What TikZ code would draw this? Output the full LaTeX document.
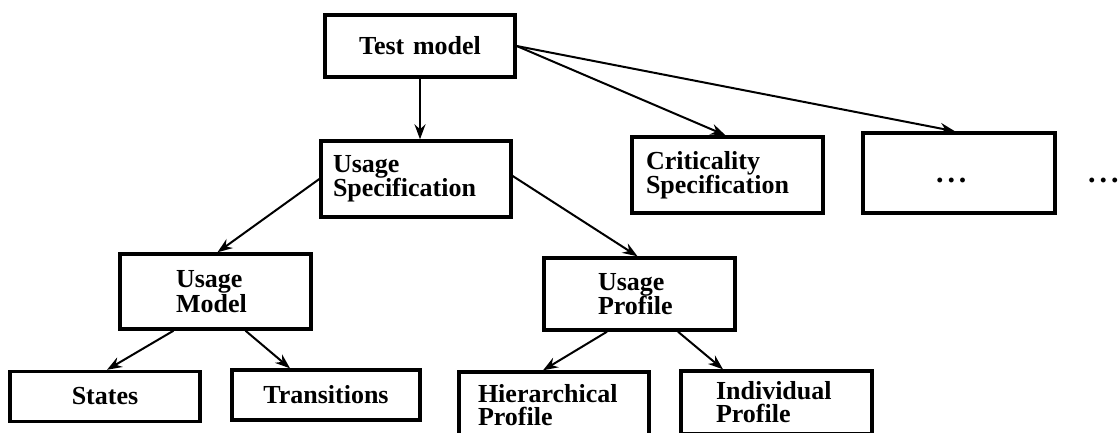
\documentclass[tikz,border=0pt]{standalone}
\usepackage{fontspec}
\setmainfont{Liberation Serif}
\usetikzlibrary{arrows.meta}
\tikzset{
  box/.style={draw, line width=3.4pt, inner ysep=0pt, align=left,
    font=\fontsize{26}{24.5}\selectfont\bfseries},
  link/.style={line width=2pt, -{Stealth[length=15pt,width=11pt,inset=5pt]}},
  plain/.style={inner sep=0pt, font=\fontsize{30}{24}\selectfont\bfseries}
}
\begin{document}
\begin{tikzpicture}[x=1pt,y=-1pt]
\useasboundingbox (0,0) rectangle (1119,432);
\clip (0,0) rectangle (1119,432);
% top
\node[box, align=center, minimum width=190pt, minimum height=62pt, inner xsep=10pt, text width=170pt] (tm) at (420,46) {Test model};
% second row
\node[box, minimum width=190pt, minimum height=76pt, inner xsep=12pt, text width=166pt] (us) at (416,179) {Usage\\Specification};
\node[box, minimum width=191pt, minimum height=76pt, inner xsep=14pt, text width=163pt] (cs) at (727.5,175) {Criticality\\Specification};
\node[box, font=\fontsize{30}{24}\selectfont\bfseries, minimum width=192pt, minimum height=80pt, inner xsep=73pt, text width=46pt] (db) at (959,173) {\vphantom{X}.\kern4pt.\kern4pt.};
\node[plain, anchor=base west] (od) at (1088,182.5) {.\kern4pt.\kern4pt.};
% third row
\node[box, minimum width=191pt, minimum height=75pt, inner xsep=56pt, text width=79pt] (um) at (215.5,291.5) {Usage\\Model};
\node[box, minimum width=191pt, minimum height=72pt, inner xsep=54pt, text width=83pt] (up) at (639.5,294) {Usage\\Profile};
% bottom row
\node[box, align=center, minimum width=190pt, minimum height=50pt, inner xsep=10pt, text width=170pt] (st) at (105,396.5) {States};
\node[box, align=center, minimum width=188pt, minimum height=50pt, inner xsep=10pt, text width=168pt] (tr) at (326,395) {Transitions};
\node[box, font=\fontsize{26}{23}\selectfont\bfseries, minimum width=190pt, minimum height=66pt, inner xsep=19pt, text width=152pt] (hp) at (554,405) {Hierarchical\\Profile};
\node[box, font=\fontsize{26}{23}\selectfont\bfseries, minimum width=191pt, minimum height=63pt, inner xsep=35pt, text width=121pt] (ip) at (776.5,402.5) {Individual\\Profile};
% connectors
\draw[link] (tm.south) -- (tm.south |- us.north);
\draw[link] (tm.east) -- ([xshift=-2pt]cs.north);
\draw[link] (tm.east) -- ([xshift=-4pt]db.north);
\draw[link] (us.west) -- ([xshift=2pt]um.north);
\draw[link] ([yshift=3pt]us.east) -- ([xshift=-2pt]up.north);
\draw[link] ([xshift=-42pt]um.south) -- ([xshift=2pt]st.north);
\draw[link] ([xshift=30pt]um.south) -- ([xshift=-36pt]tr.north);
\draw[link] ([xshift=-32.5pt]up.south) -- ([xshift=-11pt]hp.north);
\draw[link] ([xshift=38.5pt]up.south) -- ([xshift=-53.5pt]ip.north);
\end{tikzpicture}
\end{document}
